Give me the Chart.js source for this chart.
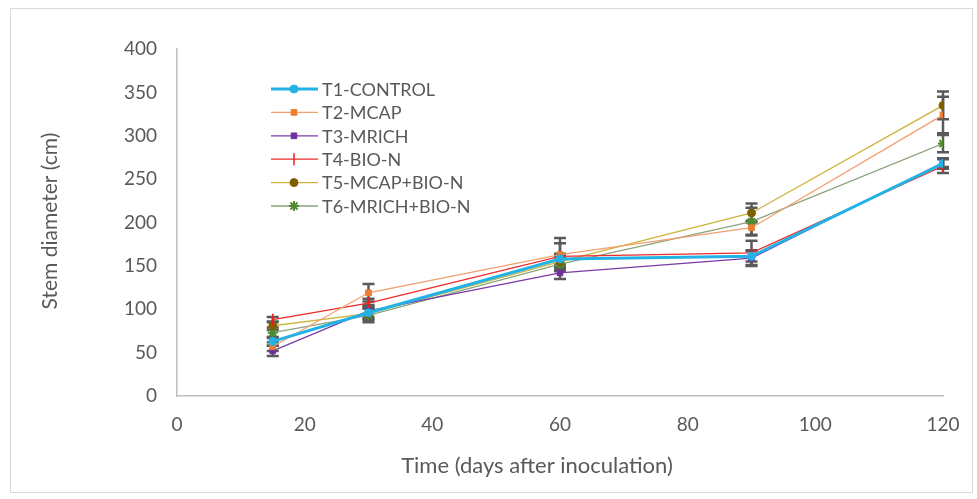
<!DOCTYPE html>
<html>
<head>
<meta charset="utf-8">
<script src="https://cdn.jsdelivr.net/npm/chart.js@4.4.1/dist/chart.umd.min.js"></script>
<style>
  html, body { margin: 0; padding: 0; background: #fff; }
  #wrap { position: relative; width: 977px; height: 499px; }
</style>
</head>
<body>
<div id="wrap"><canvas id="myChartCanvas" width="977" height="499"></canvas></div>
<script>
// days after inoculation
var days = [15, 30, 60, 90, 120];
var x_ticks = [0, 20, 40, 60, 80, 100, 120];
var y_ticks = [0, 50, 100, 150, 200, 250, 300, 350, 400];

var names = ['T1-CONTROL', 'T2-MCAP', 'T3-MRICH', 'T4-BIO-N', 'T5-MCAP+BIO-N', 'T6-MRICH+BIO-N'];
var x_title = 'Time (days after inoculation)';
var y_title = 'Stem diameter (cm)';

var t1 = [63, 96, 158, 161, 268];
var t2 = [57, 119, 163, 194, 324];
var t3 = [52, 98, 142, 159, 269];
var t4 = [88, 107, 161, 165, 265];
var t5 = [81, 95, 155, 211, 335];
var t6 = [73, 93, 152, 201, 291];

// error bar half-heights
var t1_err = [5, 8, 6, 6, 6];
var t2_err = [5, 10, 19, 8, 21];
var t3_err = [6, 7, 7, 9, 5];
var t4_err = [3, 5, 15, 14, 8];
var t5_err = [5, 6, 6, 11, 16];
var t6_err = [6, 8, 8, 16, 10];

var FONT = 'Lato, "Open Sans", sans-serif';
var TEXT = '#595959';

function pts(values) {
    let res = [];
    for (let i = 0; i < days.length; i++) res.push({ x: days[i], y: values[i] });
    return res;
}

function series(label, values, errs, lineColor, markColor, style, extra) {
    let ds = {
        label: label,
        data: pts(values),
        errors: errs,
        borderColor: lineColor,
        backgroundColor: markColor,
        pointBackgroundColor: markColor,
        pointBorderColor: markColor,
        pointStyle: style,
        pointRadius: 4,
        pointBorderWidth: 1,
        borderWidth: 1.3,
        tension: 0
    };
    for (let k in extra) ds[k] = extra[k];
    return ds;
}

var datasets = [
    series(names[0], t1, t1_err, '#22b2e6', '#22b2e6', 'circle', { borderWidth: 3, pointRadius: 4 }),
    series(names[1], t2, t2_err, '#f2a070', '#ed7d31', 'rect', {}),
    series(names[2], t3, t3_err, '#7a3aa8', '#7030a0', 'rect', {}),
    series(names[3], t4, t4_err, '#ee2a2a', '#ee1c1c', 'line', { pointRotation: 90, pointRadius: 6, pointBorderWidth: 1.5 }),
    series(names[4], t5, t5_err, '#cdb43c', '#7f6000', 'circle', {}),
    series(names[5], t6, t6_err, '#8aa47a', '#4f8a2f', 'star', { pointRadius: 5, pointBorderWidth: 2 })
];

var errorBars = {
    id: 'errorBars',
    beforeDatasetsDraw: function (chart) {
        let ctx = chart.ctx;
        let xs = chart.scales.x, ys = chart.scales.y;
        ctx.save();
        ctx.strokeStyle = '#5a5a5a';
        ctx.lineWidth = 2.5;
        chart.data.datasets.forEach(function (ds) {
            for (let i = 0; i < ds.data.length; i++) {
                let px = xs.getPixelForValue(ds.data[i].x);
                let top = ys.getPixelForValue(ds.data[i].y + ds.errors[i]);
                let bot = ys.getPixelForValue(ds.data[i].y - ds.errors[i]);
                ctx.beginPath();
                ctx.moveTo(px, top); ctx.lineTo(px, bot);
                ctx.moveTo(px - 6, top); ctx.lineTo(px + 6, top);
                ctx.moveTo(px - 6, bot); ctx.lineTo(px + 6, bot);
                ctx.stroke();
            }
        });
        ctx.restore();
    }
};

// legend floats inside the plot; axis titles and the light outer frame
var floatLegend = {
    id: 'floatLegend',
    afterDraw: function (chart) {
        let ctx = chart.ctx;
        ctx.save();
        ctx.strokeStyle = '#d9d9d9';
        ctx.lineWidth = 1;
        ctx.strokeRect(10.5, 8.5, 962, 484);

        ctx.fillStyle = TEXT;
        ctx.textAlign = 'center';
        ctx.textBaseline = 'middle';
        ctx.font = '22px ' + FONT;
        ctx.fillText(x_title, 537, 466);
        ctx.save();
        ctx.translate(50, 221);
        ctx.rotate(-Math.PI / 2);
        ctx.font = '21px ' + FONT;
        ctx.fillText(y_title, 0, 0);
        ctx.restore();

        ctx.textAlign = 'left';
        ctx.font = '18px ' + FONT;
        chart.data.datasets.forEach(function (ds, i) {
            let y = 89 + i * 23.4;
            ctx.strokeStyle = ds.borderColor;
            ctx.lineWidth = ds.borderWidth;
            ctx.beginPath();
            ctx.moveTo(271, y); ctx.lineTo(318, y);
            ctx.stroke();
            ctx.fillStyle = ds.pointBackgroundColor;
            ctx.strokeStyle = ds.pointBorderColor;
            ctx.lineWidth = ds.pointBorderWidth;
            Chart.helpers.drawPoint(ctx, {
                pointStyle: ds.pointStyle,
                rotation: ds.pointRotation || 0,
                radius: ds.pointRadius,
                borderWidth: ds.pointBorderWidth
            }, 294, y);
            ctx.fillStyle = TEXT;
            ctx.fillText(ds.label, 322, y + 1);
        });
        ctx.restore();
    }
};

new Chart(document.getElementById('myChartCanvas'), {
    type: 'line',
    data: { datasets: datasets },
    plugins: [errorBars, floatLegend],
    options: {
        responsive: false,
        animation: false,
        layout: { padding: { left: 0, top: 49, right: 34, bottom: 0 } },
        plugins: {
            legend: { display: false },
            tooltip: { enabled: false }
        },
        scales: {
            x: {
                type: 'linear',
                min: 0,
                max: 120,
                afterBuildTicks: function (s) { s.ticks = x_ticks.map(function (v) { return { value: v }; }); },
                afterFit: function (s) { s.height = 103; },
                grid: { display: false, drawTicks: false },
                border: { display: true, color: '#bfbfbf', width: 1.5 },
                ticks: { color: TEXT, font: { family: FONT, size: 19 }, padding: 17, maxRotation: 0 }
            },
            y: {
                min: 0,
                max: 400,
                afterBuildTicks: function (s) { s.ticks = y_ticks.map(function (v) { return { value: v }; }); },
                afterFit: function (s) { s.width = 177; },
                grid: { display: false, drawTicks: false },
                border: { display: true, color: '#bfbfbf', width: 1.5 },
                ticks: { color: TEXT, font: { family: FONT, size: 19 }, padding: 20 }
            }
        }
    }
});
</script>
</body>
</html>
